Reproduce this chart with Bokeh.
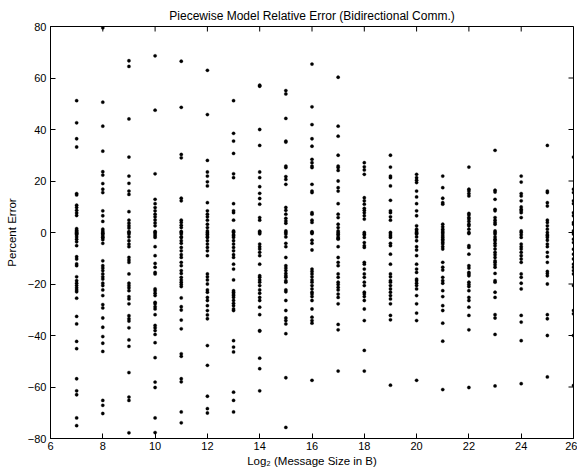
import math
from bokeh.plotting import figure
from bokeh.models import FixedTicker, Range1d, ColumnDataSource
from bokeh.embed import file_html
from bokeh.resources import INLINE

# Percent error per message size column (log2 of size in bytes)
e07 = [51.2, 42.6, 36.4, 33.2, 15.1, 14.6, 10.6, 9.7, 8.6, 7.6, 6.6, 1.5, 0.9, 0.4, 0.0, -0.3, -0.9,
       -0.6, -1.7, -2.6, -3.6, -5.1, -9.4, -10.3, -12.2, -12.9, -17.2, -18.7, -19.7, -20.6, -21.5,
       -22.3, -23.0, -25.5, -32.6, -35.5, -42.3, -45.1, -56.8, -61.5, -63.0, -72.0, -75.0]
e08 = [79.5, 50.6, 41.3, 31.6, 23.6, 22.3, 19.0, 16.8, 15.5, 8.4, 6.5, 4.3, 1.3, 0.6, -0.4, -1.3, -1.9,
       0.0, -0.6, -2.0, -2.8, -4.2, -11.0, -12.9, -13.8, -14.8, -16.1, -17.2, -18.1, -19.7, -20.6,
       -22.3, -24.5, -28.0, -29.3, -33.2, -36.8, -40.4, -43.0, -46.2, -65.2, -67.1, -70.3]
e09 = [66.7, 64.5, 44.1, 29.3, 21.9, 19.1, 16.1, 14.8, 8.1, 4.8, 3.6, 2.6, 1.7, 0.0, -0.6, -1.7,
       0.3, -3.2, -4.5, -5.5, -9.7, -10.7, -11.6, -16.1, -19.7, -20.6, -21.5, -22.6, -24.9, -25.8,
       -27.7, -32.3, -33.5, -34.4, -37.0, -41.7, -44.2, -54.4, -63.9, -65.2, -77.8]
e10 = [68.6, 47.5, 22.8, 12.9, 11.2, 9.7, 8.4, 7.1, 6.1, 4.9, 3.7, 2.6, 0.0, -0.6, -1.9,
       0.4, -1.3, -5.5, -9.0, -12.0, -13.5, -15.5, -16.1, -21.9, -22.6, -23.6, -24.5, -27.1, -27.7,
       -28.8, -29.7, -31.9, -36.1, -37.0, -38.1, -39.6, -42.8, -48.6, -58.1, -60.2, -72.0, -77.7]
e11 = [66.5, 48.6, 30.3, 29.0, 13.3, 12.3, 4.8, 3.9, 2.8, 1.9, 0.4, -0.6, -1.9, -3.2,
       0.0, -1.7, -4.2, -5.8, -7.1, -8.6, -9.7, -11.6, -12.9, -14.8, -15.9, -17.4, -18.4, -19.3,
       -20.2, -21.0, -25.4, -28.8, -30.1, -34.0, -37.4, -47.1, -48.1, -56.8, -58.0, -69.7, -73.9]
e12 = [63.0, 45.8, 28.0, 23.5, 21.9, 19.7, 18.1, 11.6, 8.4, 7.1, 6.1, 4.8, 3.2, 1.9, 0.6, -0.6, -1.7,
       0.0, -0.9, -1.9, -3.2, -4.5, -5.8, -7.1, -9.0, -16.1, -17.2, -18.4, -20.0, -22.3, -23.2,
       -25.2, -26.4, -28.4, -30.3, -32.0, -33.5, -43.9, -51.6, -63.6, -68.4, -70.1]
e13 = [51.2, 38.5, 35.5, 30.7, 22.8, 21.3, 11.2, 8.4, 7.7, 4.8, 0.6, 0.0, -0.9, -1.9,
       0.3, -1.3, -3.2, -4.5, -5.8, -7.1, -8.6, -9.7, -12.3, -14.2, -18.4, -22.6, -23.2, -23.9,
       -24.5, -25.2, -26.4, -27.5, -28.4, -29.7, -30.3, -42.0, -44.5, -46.4, -62.0, -65.2, -69.7]
e14 = [56.8, 57.2, 40.0, 33.8, 23.5, 21.3, 17.8, 15.2, 13.2, 11.0, 5.8, 4.8, 0.5, 0.0, -0.5,
       -4.5, -5.5, -6.4, -7.7, -9.0, -12.3, -16.8, -17.4, -18.4, -19.3, -20.6, -22.3, -23.6,
       -25.2, -26.4, -29.0, -31.9, -38.1, -38.3, -48.8, -52.9, -61.5]
e15 = [55.1, 53.8, 44.3, 35.5, 35.1, 25.8, 25.2, 21.7, 20.6, 18.7, 9.7, 8.6, 7.1, 5.5, 4.5, 3.6,
       0.6, 0.0, -0.6, -1.7, -4.2, -5.5, -9.7, -12.9, -13.8, -14.8, -15.9, -16.8, -17.4, -18.7,
       -19.3, -22.3, -23.0, -26.4, -30.3, -33.2, -34.2, -35.5, -39.3, -56.4, -75.7]
e16 = [65.4, 48.8, 41.9, 36.4, 33.5, 28.4, 27.1, 25.8, 25.2, 18.7, 16.1, 15.5, 7.7, 7.1, 4.8, 3.9,
       0.3, 0.0, -0.4, -3.0, -4.2, -6.8, -14.2, -15.1, -16.1, -17.2, -18.4, -19.3, -20.6, -21.9,
       -23.2, -23.9, -24.9, -26.4, -29.7, -32.9, -34.2, -35.2, -57.4]
e17 = [60.3, 41.3, 37.4, 30.0, 25.8, 25.2, 24.1, 20.0, 17.4, 16.1, 11.2, 7.1, 5.8, 3.2, 1.9, 0.6,
       0.0, -0.6, -0.9, -1.7, -2.2, -2.6, -5.5, -9.7, -11.6, -12.9, -16.1, -17.4, -19.3, -20.2,
       -21.3, -22.3, -23.9, -25.2, -27.7, -35.7, -37.8, -53.8]
e18 = [27.1, 25.5, 24.3, 22.6, 13.5, 12.3, 11.0, 9.4, 8.6, 7.7, 6.5, 5.2, 0.0, -0.6, -0.9,
       -1.9, -3.9, -5.1, -5.8, -11.6, -12.3, -14.2, -16.1, -17.4, -19.3, -20.6, -23.2, -23.9,
       -24.9, -26.4, -29.7, -34.2, -45.8, -53.8]
e19 = [30.0, 25.4, 21.9, 21.3, 18.1, 12.5, 8.4, 7.7, 6.1, 4.8, 0.0, -0.6, -1.3, -1.9,
       -4.2, -5.1, -8.4, -12.3, -16.1, -17.2, -18.7, -19.3, -20.6, -21.9, -23.2, -24.5, -25.8,
       -27.7, -32.2, -33.9, -59.3]
e20 = [22.6, 21.3, 20.3, 19.4, 16.1, 13.8, 11.2, 8.4, 6.5, 2.6, 1.3, 0.6, 0.0, -0.4, -0.6, -1.7,
       -3.2, -5.5, -6.8, -9.0, -12.3, -14.2, -15.5, -18.1, -18.7, -19.7, -20.6, -21.9, -24.5,
       -27.7, -31.3, -34.2, -57.4]
e21 = [21.9, 17.4, 13.3, 11.6, 11.0, 3.2, 2.2, 1.3, 0.6, 0.0, -0.6, -1.3, -1.9, -2.6, -3.2, -3.9,
       -4.5, -5.5, -6.4, -11.6, -13.5, -14.6, -17.4, -18.7, -19.7, -22.6, -24.9, -28.4, -30.3,
       -35.2, -42.2, -61.0]
e22 = [25.4, 16.8, 16.1, 15.1, 14.2, 7.4, 6.8, 5.8, 5.2, 4.3, 3.2, 2.6, 1.3, 0.0, -0.4,
       -5.1, -5.8, -8.4, -12.9, -13.8, -15.5, -16.1, -16.8, -19.3, -20.2, -21.0, -22.6, -25.2,
       -26.4, -29.0, -32.2, -37.8, -60.2]
e23 = [31.9, 16.4, 15.7, 12.9, 9.0, 8.4, 5.8, 4.8, 3.9, 3.2, 0.6, 0.0, -0.6, -1.7, -2.6, -3.2,
       -4.2, -5.1, -6.4, -7.7, -8.6, -9.7, -11.0, -11.6, -12.5, -13.5, -15.9, -18.7, -19.3, -23.2,
       -25.2, -31.9, -33.2, -39.6, -59.6]
e24 = [21.9, 19.6, 15.1, 14.2, 12.3, 9.9, 9.0, 8.4, 7.7, 5.8, 0.6, 0.0, -0.9, -1.9,
       -4.5, -5.5, -6.4, -7.7, -9.0, -10.3, -11.6, -16.1, -17.4, -19.7, -21.9, -32.2, -34.8,
       -42.0, -58.7]
e25 = [33.8, 16.1, 15.5, 11.6, 10.3, 4.8, 3.9, 2.6, 1.3, 0.0, -0.9, -1.9, -1.3, -3.0,
       -4.5, -5.5, -7.7, -9.4, -11.6, -15.1, -15.9, -16.8, -20.0, -31.9, -33.5, -40.0, -56.1]
e26 = [29.3, 16.8, 15.5, 12.3, 11.2, 7.7, 6.5, 3.9, 3.2, 0.6, 0.0, -0.6, -2.6, -3.9, -6.5,
       -8.4, -10.3, -12.3, -13.5, -14.8, -16.1, -20.6, -30.3, -31.6, -40.0, -59.4]

sizes = [7, 8, 9, 10, 11, 12, 13, 14, 15, 16, 17, 18, 19, 20, 21, 22, 23, 24, 25, 26]
errors = [e07, e08, e09, e10, e11, e12, e13, e14, e15, e16, e17, e18, e19, e20, e21, e22, e23,
          e24, e25, e26]

x_ticks = [6, 8, 10, 12, 14, 16, 18, 20, 22, 24, 26]
y_ticks = [-80, -60, -40, -20, 0, 20, 40, 60, 80]
x_min, x_max = 6, 26
y_min, y_max = -80, 80

xs, ys = [], []
for s, col in zip(sizes, errors):
    for v in col:
        xs.append(s)
        ys.append(v)
src = ColumnDataSource(data=dict(x=xs, y=ys))

FONT = "Liberation Sans"

p = figure(width=577, height=472, output_backend="svg", toolbar_location=None,
           x_range=Range1d(x_min, x_max), y_range=Range1d(y_min, y_max),
           title="Piecewise Model Relative Error (Bidirectional Comm.)")
p.min_border_left = 50
p.min_border_right = 4
p.min_border_top = 26
p.min_border_bottom = 34
p.background_fill_color = "white"
p.border_fill_color = "white"
p.outline_line_color = "black"
p.outline_line_width = 1
p.xgrid.visible = False
p.ygrid.visible = False

p.title.text_font = FONT
p.title.text_font_size = "12px"
p.title.text_font_style = "normal"
p.title.align = "center"
p.title.text_color = "black"
p.title.standoff = 7

p.scatter("x", "y", source=src, marker="circle", size=3.3,
          fill_color="black", line_color="black", line_width=0.3)

# inward ticks on the top and right edges of the box (MATLAB style)
p.ray(x=x_ticks, y=[y_max] * len(x_ticks), length=5, length_units="screen",
      angle=-math.pi / 2, line_color="black", line_width=1)
p.ray(x=[x_max] * len(y_ticks), y=y_ticks, length=5, length_units="screen",
      angle=math.pi, line_color="black", line_width=1)


def style_axis(ax, ticks):
    ax.ticker = FixedTicker(ticks=ticks)
    ax.axis_line_color = "black"
    ax.axis_line_width = 1
    ax.major_tick_in = 5
    ax.major_tick_out = 0
    ax.major_tick_line_color = "black"
    ax.minor_tick_line_color = None
    ax.major_label_text_font = FONT
    ax.major_label_text_font_size = "11px"
    ax.major_label_text_color = "black"
    ax.axis_label_text_font = FONT
    ax.axis_label_text_font_size = "11.5px"
    ax.axis_label_text_font_style = "normal"
    ax.axis_label_text_color = "black"


xa = p.xaxis[0]
style_axis(xa, x_ticks)
xa.axis_label = "Log\u2082 (Message Size in B)"
xa.major_label_standoff = 3
xa.axis_label_standoff = 2

ya = p.yaxis[0]
style_axis(ya, y_ticks)
ya.axis_label = "Percent Error"
ya.major_label_standoff = 4
ya.axis_label_standoff = 7

open("out.html", "w").write(file_html(p, INLINE))
